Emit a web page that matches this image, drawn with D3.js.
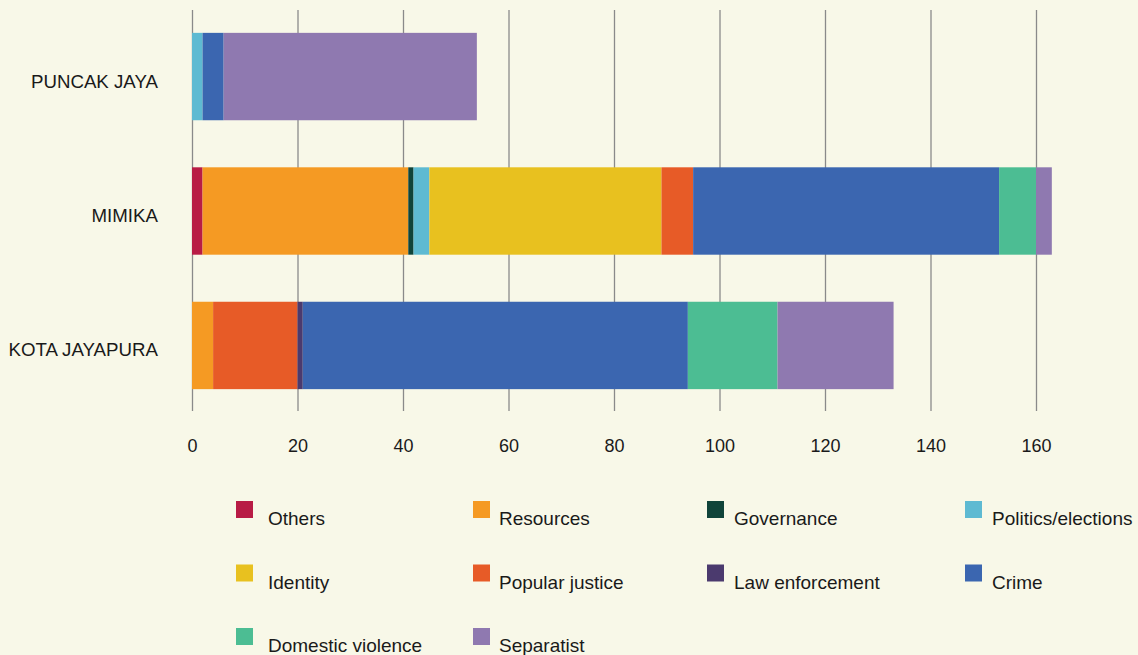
<!DOCTYPE html>
<html>
<head>
<meta charset="utf-8">
<script src="https://cdn.jsdelivr.net/npm/d3@7"></script>
<style>
  html, body { margin: 0; padding: 0; background: #f8f8e8; }
  svg { display: block; font-family: "Liberation Sans", Arial, Helvetica, sans-serif; }
</style>
</head>
<body>
<svg id="chart" width="1138" height="655"></svg>
<script>
const categories = ["PUNCAK JAYA", "MIMIKA", "KOTA JAYAPURA"];
const seriesNames = ["Others", "Resources", "Governance", "Politics/elections", "Identity",
                     "Popular justice", "Law enforcement", "Crime", "Domestic violence", "Separatist"];
const seriesColors = ["#b81c45", "#f59a23", "#10443a", "#5ebad2", "#e8c11f",
                      "#e75b27", "#4b3a6e", "#3b66b0", "#4cbd93", "#8f79b0"];
// values per category, in series order
const others           = [0, 2, 0];
const resources        = [0, 39, 4];
const governance       = [0, 1, 0];
const politics         = [2, 3, 0];
const identity         = [0, 44, 0];
const popularJustice   = [0, 6, 16];
const lawEnforcement   = [0, 0, 1];
const crime            = [4, 58, 73];
const domesticViolence = [0, 7, 17];
const separatist       = [48, 3, 22];
const tickValues = [0, 20, 40, 60, 80, 100, 120, 140, 160];

const seriesValues = [others, resources, governance, politics, identity,
                      popularJustice, lawEnforcement, crime, domesticViolence, separatist];

const table = categories.map((c, i) => {
  const row = { category: c };
  seriesNames.forEach((s, j) => row[s] = seriesValues[j][i]);
  return row;
});

const svg = d3.select("#chart");
const x = d3.scaleLinear().domain([0, 160]).range([192, 1036]);
const y = d3.scaleBand().domain(categories).range([10, 412]).paddingInner(0.35).paddingOuter(0.17);
const color = d3.scaleOrdinal().domain(seriesNames).range(seriesColors);

// gridlines / axis
const axis = d3.axisBottom(x).tickValues(tickValues).tickSize(401).tickPadding(0).tickFormat(d3.format("d"));
const gAxis = svg.append("g").attr("transform", "translate(0,10)").call(axis);
gAxis.select(".domain").remove();
gAxis.selectAll(".tick line").attr("stroke", "#8a8a8a").attr("stroke-width", 1.3);
gAxis.selectAll(".tick text")
  .attr("y", 442).attr("dy", 0)
  .attr("font-size", 18).attr("fill", "#1a1a1a")
  .attr("font-family", "'Liberation Sans', Arial, sans-serif");

// stacked bars
const stack = d3.stack().keys(seriesNames);
const layers = stack(table);
svg.append("g").selectAll("g").data(layers).join("g")
  .attr("fill", d => color(d.key))
  .selectAll("rect").data(d => d).join("rect")
  .attr("x", d => x(d[0]))
  .attr("width", d => Math.max(0, x(d[1]) - x(d[0])))
  .attr("y", d => y(d.data.category))
  .attr("height", y.bandwidth());

// category labels
svg.append("g").selectAll("text").data(categories).join("text")
  .attr("x", 158)
  .attr("y", d => y(d) + y.bandwidth() / 2 + 11)
  .attr("text-anchor", "end")
  .attr("font-size", 18.7)
  .attr("fill", "#1a1a1a")
  .text(d => d);

// legend
const colX = [236, 473, 707, 965];
const textX = [268, 499, 734, 992];
const rowY = [501, 564.5, 628];
const legend = svg.append("g").selectAll("g").data(seriesNames).join("g")
  .attr("transform", (d, i) => `translate(${colX[i % 4]},${rowY[Math.floor(i / 4)]})`);
legend.append("rect").attr("width", 17).attr("height", 17).attr("fill", d => color(d));
legend.append("text").attr("x", (d, i) => textX[i % 4] - colX[i % 4]).attr("y", 24)
  .attr("font-size", 19).attr("fill", "#1a1a1a").text(d => d);
</script>
</body>
</html>
